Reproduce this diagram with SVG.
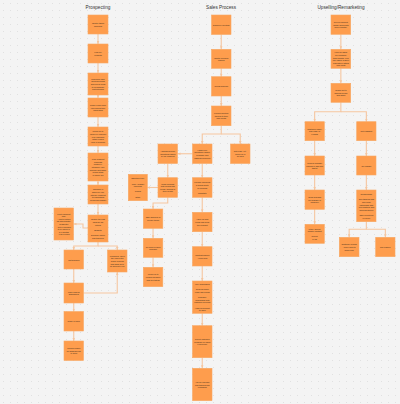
<svg xmlns="http://www.w3.org/2000/svg" width="400" height="404" viewBox="0 0 400 404">
<style>
.n{fill:#FE9D4D;stroke:#F7A865;stroke-width:0.6}
.t{font-family:"Liberation Sans",Arial,sans-serif;font-size:2px;fill:#3a2a1a;text-anchor:middle;dominant-baseline:central}
.h{font-family:"Liberation Sans",Arial,sans-serif;font-size:4.7px;fill:#333;text-anchor:middle}
.c{fill:none;stroke:#F5C6A0;stroke-width:1.1;marker-end:url(#a)}
</style>
<defs>
<pattern id="g" width="7" height="7" patternUnits="userSpaceOnUse"><circle cx="3.5" cy="3.5" r="0.45" fill="#cdcdcd"/></pattern>
<marker id="a" viewBox="0 0 4 4" markerWidth="3" markerHeight="3" refX="4" refY="2" orient="auto" markerUnits="userSpaceOnUse"><path d="M0,0.3 L4,2 L0,3.7 z" fill="#F5C6A0"/></marker>
</defs>
<rect width="400" height="404" fill="#f4f4f4"/>
<rect width="400" height="404" fill="url(#g)"/>
<text class="h" x="98" y="9">Prospecting</text>
<text class="h" x="221" y="9">Sales Process</text>
<text class="h" x="341" y="9">Upselling/Remarketing</text>
<g id="connectors">
<path class="c" d="M98,34 V44"/>
<path class="c" d="M98,63 V73"/>
<path class="c" d="M98,95 V98"/>
<path class="c" d="M98,117 V127"/>
<path class="c" d="M98,146 V153"/>
<path class="c" d="M98,181 V185"/>
<path class="c" d="M98,204 V215"/>
<path class="c" d="M88,228 H83 V224 H73.5"/>
<path class="c" d="M98,242 V246 H73.75 V250"/>
<path class="c" d="M98,246 H117.25 V250"/>
<path class="c" d="M73.75,269 V283"/>
<path class="c" d="M83.5,293 H117.25 V272"/>
<path class="c" d="M73.75,303 V311.5"/>
<path class="c" d="M73.75,331 V341"/>
<path class="c" d="M221.25,34.5 V49.3"/>
<path class="c" d="M221.25,68.3 V76.7"/>
<path class="c" d="M221.25,96 V106"/>
<path class="c" d="M221.25,125.7 V134 H202.25 V144"/>
<path class="c" d="M221.25,134 H240.25 V144"/>
<path class="c" d="M192.5,153.75 H177.5"/>
<path class="c" d="M167.75,163.5 V177.7"/>
<path class="c" d="M158,187.5 H147.3"/>
<path class="c" d="M167.75,197.3 V203 H153.05 V209"/>
<path class="c" d="M153.05,228.3 V238.3"/>
<path class="c" d="M153.05,257.3 V267.3"/>
<path class="c" d="M202.25,163.5 V177.7"/>
<path class="c" d="M202.25,197.3 V212.3"/>
<path class="c" d="M202.25,231.7 V246.7"/>
<path class="c" d="M202.25,266 V281"/>
<path class="c" d="M202.25,313.3 V325.7"/>
<path class="c" d="M202.25,357.7 V368.3"/>
<path class="c" d="M340.85,34.3 V49.3"/>
<path class="c" d="M340.85,68.3 V83.3"/>
<path class="c" d="M340.85,102.3 V111.7 H314.65 V121.7"/>
<path class="c" d="M340.85,111.7 H366.35 V121.7"/>
<path class="c" d="M314.65,140.7 V156"/>
<path class="c" d="M314.65,175 V190"/>
<path class="c" d="M314.65,209.3 V224.3"/>
<path class="c" d="M366.35,140.7 V156"/>
<path class="c" d="M366.35,175 V190"/>
<path class="c" d="M366.35,221.7 V229.3 H349.15 V237.3"/>
<path class="c" d="M366.35,229.3 H385.35 V237.3"/>
</g>
<g id="p1"><rect class="n" x="88" y="15" width="20" height="19"/><text class="t" y="23.2"><tspan x="98">Identify target</tspan><tspan x="98" dy="2.6">accounts</tspan></text></g>
<g id="p2"><rect class="n" x="88" y="44" width="20" height="19"/><text class="t" y="52.2"><tspan x="98">Find key</tspan><tspan x="98" dy="2.6">contacts</tspan></text></g>
<g id="p3"><rect class="n" x="88" y="73" width="20" height="22"/><text class="t" y="78.8"><tspan x="98">Research each</tspan><tspan x="98" dy="2.6">account's goals</tspan><tspan x="98" dy="2.6">and recent news</tspan><tspan x="98" dy="2.6">to personalise</tspan><tspan x="98" dy="2.6">first outreach</tspan></text></g>
<g id="p4"><rect class="n" x="88" y="98" width="20" height="19"/><text class="t" y="104.9"><tspan x="98">Send a cold email</tspan><tspan x="98" dy="2.6">referencing their</tspan><tspan x="98" dy="2.6">challenges</tspan></text></g>
<g id="p5"><rect class="n" x="88" y="127" width="20" height="19"/><text class="t" y="131.3"><tspan x="98">Follow up by</tspan><tspan x="98" dy="2.6">phone or LinkedIn</tspan><tspan x="98" dy="2.6">if no response</tspan><tspan x="98" dy="2.6">within 3 days</tspan><tspan x="98" dy="2.6">(max 3 touches)</tspan></text></g>
<g id="p6"><rect class="n" x="88" y="153" width="20" height="28"/><text class="t" y="159.2"><tspan x="98">If the prospect</tspan><tspan x="98" dy="2.6">responds</tspan><tspan x="98" dy="2.6">positively,</tspan><tspan x="98" dy="2.6">introduce your</tspan><tspan x="98" dy="2.6">solution and share</tspan><tspan x="98" dy="2.6">a case study</tspan><tspan x="98" dy="2.6">or demo link</tspan></text></g>
<g id="p7"><rect class="n" x="88" y="185" width="20" height="19"/><text class="t" y="189.3"><tspan x="98">Schedule a</tspan><tspan x="98" dy="2.6">discovery call</tspan><tspan x="98" dy="2.6">with the prospect</tspan><tspan x="98" dy="2.6">to understand</tspan><tspan x="98" dy="2.6">needs and budget</tspan></text></g>
<g id="p8"><rect class="n" x="88" y="215" width="20" height="27"/><text class="t" y="219.4"><tspan x="98">Qualify the lead</tspan><tspan x="98" dy="2.6">using BANT</tspan><tspan x="98" dy="2.6">criteria</tspan><tspan x="98" dy="2.6"> </tspan><tspan x="98" dy="2.6">Budget?</tspan><tspan x="98" dy="2.6"> </tspan><tspan x="98" dy="2.6">Decision-maker</tspan><tspan x="98" dy="2.6">and timeline?</tspan></text></g>
<g id="p8-side"><rect class="n" x="54" y="208" width="19.5" height="32"/><text class="t" y="213.6"><tspan x="63.75">If not a good fit</tspan><tspan x="63.75" dy="2.6">now:</tspan><tspan x="63.75" dy="2.6">- Add to nurture</tspan><tspan x="63.75" dy="2.6">list with monthly</tspan><tspan x="63.75" dy="2.6">newsletter</tspan><tspan x="63.75" dy="2.6">- Set a reminder</tspan><tspan x="63.75" dy="2.6">to re-check in</tspan><tspan x="63.75" dy="2.6">3-6 months</tspan><tspan x="63.75" dy="2.6">- Log in CRM</tspan></text></g>
<g id="p9"><rect class="n" x="64" y="250" width="19.5" height="19"/><text class="t" y="259.5"><tspan x="73.75">Not qualified</tspan></text></g>
<g id="p10"><rect class="n" x="107.5" y="250" width="19.5" height="22"/><text class="t" y="255.8"><tspan x="117.25">If qualified, move</tspan><tspan x="117.25" dy="2.6">the lead to the</tspan><tspan x="117.25" dy="2.6">Sales Process</tspan><tspan x="117.25" dy="2.6">and hand off to</tspan><tspan x="117.25" dy="2.6">an account exec</tspan></text></g>
<g id="p11"><rect class="n" x="64" y="283" width="19.5" height="20"/><text class="t" y="291.7"><tspan x="73.75">Mark lead as</tspan><tspan x="73.75" dy="2.6">disqualified</tspan></text></g>
<g id="p12"><rect class="n" x="64" y="311.5" width="19.5" height="19.5"/><text class="t" y="321.25"><tspan x="73.75">Close in CRM</tspan></text></g>
<g id="p13"><rect class="n" x="64" y="341" width="19.5" height="19.5"/><text class="t" y="348.15"><tspan x="73.75">Record reason</tspan><tspan x="73.75" dy="2.6">for disqualifying</tspan><tspan x="73.75" dy="2.6">in CRM</tspan></text></g>
<g id="s1"><rect class="n" x="211.5" y="15" width="19.5" height="19.5"/><text class="t" y="24.75"><tspan x="221.25">Discovery meeting</tspan></text></g>
<g id="s2"><rect class="n" x="211.5" y="49.3" width="19.5" height="19"/><text class="t" y="57.5"><tspan x="221.25">Identify decision</tspan><tspan x="221.25" dy="2.6">makers</tspan></text></g>
<g id="s3"><rect class="n" x="211.5" y="76.7" width="19.5" height="19.3"/><text class="t" y="86.35"><tspan x="221.25">Needs analysis</tspan></text></g>
<g id="s4"><rect class="n" x="211.5" y="106" width="19.5" height="19.7"/><text class="t" y="113.25"><tspan x="221.25">Present solution</tspan><tspan x="221.25" dy="2.6">tailored to their</tspan><tspan x="221.25" dy="2.6">pain points</tspan></text></g>
<g id="s5"><rect class="n" x="192.5" y="144" width="19.5" height="19.5"/><text class="t" y="149.85"><tspan x="202.25">Handle any</tspan><tspan x="202.25" dy="2.6">questions, gather</tspan><tspan x="202.25" dy="2.6">feedback and</tspan><tspan x="202.25" dy="2.6">address concerns</tspan></text></g>
<g id="s6"><rect class="n" x="230.5" y="144" width="19.5" height="19.5"/><text class="t" y="151.15"><tspan x="240.25">Not ready yet -</tspan><tspan x="240.25" dy="2.6">follow up in</tspan><tspan x="240.25" dy="2.6">30 days</tspan></text></g>
<g id="s7"><rect class="n" x="158" y="144" width="19.5" height="19.5"/><text class="t" y="151.15"><tspan x="167.75">Address specific</tspan><tspan x="167.75" dy="2.6">objections raised</tspan><tspan x="167.75" dy="2.6">by the prospect</tspan></text></g>
<g id="s8"><rect class="n" x="158" y="177.7" width="19.5" height="19.6"/><text class="t" y="183.6"><tspan x="167.75">Send proposal</tspan><tspan x="167.75" dy="2.6">with pricing and</tspan><tspan x="167.75" dy="2.6">terms, tailored to</tspan><tspan x="167.75" dy="2.6">their needs</tspan></text></g>
<g id="s9"><rect class="n" x="128.3" y="174.3" width="19" height="26.4"/><text class="t" y="178.4"><tspan x="137.8">Objection type:</tspan><tspan x="137.8" dy="2.6"> </tspan><tspan x="137.8" dy="2.6">Price / budget</tspan><tspan x="137.8" dy="2.6">concerns</tspan><tspan x="137.8" dy="2.6"> </tspan><tspan x="137.8" dy="2.6">Timing</tspan><tspan x="137.8" dy="2.6"> </tspan><tspan x="137.8" dy="2.6">Other</tspan></text></g>
<g id="s10"><rect class="n" x="192.5" y="177.7" width="19.5" height="19.6"/><text class="t" y="182.3"><tspan x="202.25">Prepare and send</tspan><tspan x="202.25" dy="2.6">a formal quote</tspan><tspan x="202.25" dy="2.6">or proposal</tspan><tspan x="202.25" dy="2.6"> </tspan><tspan x="202.25" dy="2.6">Negotiate</tspan></text></g>
<g id="s11"><rect class="n" x="143.3" y="209" width="19.5" height="19.3"/><text class="t" y="217.35"><tspan x="153.05">Offer discount or</tspan><tspan x="153.05" dy="2.6">flexible terms</tspan></text></g>
<g id="s12"><rect class="n" x="143.3" y="238.3" width="19.5" height="19"/><text class="t" y="246.5"><tspan x="153.05">Re-send revised</tspan><tspan x="153.05" dy="2.6">proposal</tspan></text></g>
<g id="s13"><rect class="n" x="143.3" y="267.3" width="19.5" height="19.4"/><text class="t" y="274.4"><tspan x="153.05">Follow up to</tspan><tspan x="153.05" dy="2.6">confirm decision</tspan><tspan x="153.05" dy="2.6">and next steps</tspan></text></g>
<g id="s14"><rect class="n" x="192.5" y="212.3" width="19.5" height="19.4"/><text class="t" y="219.4"><tspan x="202.25">Agree on final</tspan><tspan x="202.25" dy="2.6">terms and send</tspan><tspan x="202.25" dy="2.6">the contract</tspan></text></g>
<g id="s15"><rect class="n" x="192.5" y="246.7" width="19.5" height="19.3"/><text class="t" y="255.05"><tspan x="202.25">Contract signed</tspan><tspan x="202.25" dy="2.6">- close deal</tspan></text></g>
<g id="s16"><rect class="n" x="192.5" y="281" width="19.5" height="32.3"/><text class="t" y="284.15"><tspan x="202.25">Win: onboarding</tspan><tspan x="202.25" dy="2.6"> </tspan><tspan x="202.25" dy="2.6">Send welcome</tspan><tspan x="202.25" dy="2.6">email and kickoff</tspan><tspan x="202.25" dy="2.6"> </tspan><tspan x="202.25" dy="2.6">Schedule</tspan><tspan x="202.25" dy="2.6">onboarding with</tspan><tspan x="202.25" dy="2.6">customer success</tspan><tspan x="202.25" dy="2.6"> </tspan><tspan x="202.25" dy="2.6">Hand off account</tspan><tspan x="202.25" dy="2.6">to CSM</tspan></text></g>
<g id="s17"><rect class="n" x="192.5" y="325.7" width="19.5" height="32"/><text class="t" y="339.1"><tspan x="202.25">Collect customer</tspan><tspan x="202.25" dy="2.6">feedback on sales</tspan><tspan x="202.25" dy="2.6">experience</tspan></text></g>
<g id="s18"><rect class="n" x="192.5" y="368.3" width="19.5" height="32.4"/><text class="t" y="381.9"><tspan x="202.25">Ask for referrals</tspan><tspan x="202.25" dy="2.6">and testimonials</tspan><tspan x="202.25" dy="2.6">if satisfied</tspan></text></g>
<g id="u1"><rect class="n" x="331" y="15" width="19.7" height="19.3"/><text class="t" y="22.05"><tspan x="340.85">Review account</tspan><tspan x="340.85" dy="2.6">usage and health</tspan><tspan x="340.85" dy="2.6">score monthly</tspan></text></g>
<g id="u2"><rect class="n" x="331" y="49.3" width="19.7" height="19"/><text class="t" y="52.3"><tspan x="340.85">Look for signs</tspan><tspan x="340.85" dy="2.6">of expansion:</tspan><tspan x="340.85" dy="2.6">team growth, new</tspan><tspan x="340.85" dy="2.6">use cases, feature</tspan><tspan x="340.85" dy="2.6">requests or hitting</tspan><tspan x="340.85" dy="2.6">plan limits</tspan></text></g>
<g id="u3"><rect class="n" x="331" y="83.3" width="19.7" height="19"/><text class="t" y="90.2"><tspan x="340.85">Reach out to</tspan><tspan x="340.85" dy="2.6">discuss needs</tspan><tspan x="340.85" dy="2.6">and goals</tspan></text></g>
<g id="u4"><rect class="n" x="305" y="121.7" width="19.3" height="19"/><text class="t" y="128.6"><tspan x="314.65">Customer happy</tspan><tspan x="314.65" dy="2.6">and ready to</tspan><tspan x="314.65" dy="2.6">expand</tspan></text></g>
<g id="u5"><rect class="n" x="356.7" y="121.7" width="19.3" height="19"/><text class="t" y="131.2"><tspan x="366.35">Not engaged</tspan></text></g>
<g id="u6"><rect class="n" x="305" y="156" width="19.3" height="19"/><text class="t" y="162.9"><tspan x="314.65">Present upgrade</tspan><tspan x="314.65" dy="2.6">options or add-ons</tspan><tspan x="314.65" dy="2.6">that fit</tspan></text></g>
<g id="u7"><rect class="n" x="356.7" y="156" width="19.3" height="19"/><text class="t" y="165.5"><tspan x="366.35">Re-engage</tspan></text></g>
<g id="u8"><rect class="n" x="305" y="190" width="19.3" height="19.3"/><text class="t" y="197.05"><tspan x="314.65">Send proposal</tspan><tspan x="314.65" dy="2.6">for upgrade or</tspan><tspan x="314.65" dy="2.6">cross-sell</tspan></text></g>
<g id="u9"><rect class="n" x="305" y="224.3" width="19.3" height="19"/><text class="t" y="228.6"><tspan x="314.65">If they accept,</tspan><tspan x="314.65" dy="2.6">update contract</tspan><tspan x="314.65" dy="2.6"> </tspan><tspan x="314.65" dy="2.6">Renew</tspan><tspan x="314.65" dy="2.6">&amp; log</tspan></text></g>
<g id="u10"><rect class="n" x="356.7" y="190" width="19.3" height="31.7"/><text class="t" y="194.15"><tspan x="366.35">Remarketing:</tspan><tspan x="366.35" dy="2.6"> </tspan><tspan x="366.35" dy="2.6">Run targeted ads</tspan><tspan x="366.35" dy="2.6">and email</tspan><tspan x="366.35" dy="2.6">campaigns with</tspan><tspan x="366.35" dy="2.6">new features and</tspan><tspan x="366.35" dy="2.6">success stories</tspan><tspan x="366.35" dy="2.6"> </tspan><tspan x="366.35" dy="2.6">Offer incentives</tspan><tspan x="366.35" dy="2.6">to return</tspan></text></g>
<g id="u11"><rect class="n" x="339.3" y="237.3" width="19.7" height="19.4"/><text class="t" y="244.4"><tspan x="349.15">Customer returns</tspan><tspan x="349.15" dy="2.6">- move back to</tspan><tspan x="349.15" dy="2.6">upsell flow</tspan></text></g>
<g id="u12"><rect class="n" x="375.7" y="237.3" width="19.3" height="19.4"/><text class="t" y="247"><tspan x="385.35">Still inactive</tspan></text></g>
</svg>
